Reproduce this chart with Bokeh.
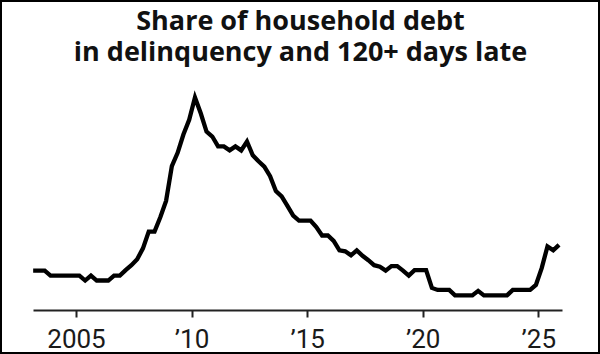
from bokeh.plotting import figure
from bokeh.models import Range1d, FixedTicker, Title
from bokeh.embed import file_html
from bokeh.resources import INLINE

# ---- data ----
start_year = 2003
n_quarters = 92  # 2003Q1 .. 2025Q4
share_120_late = [
    1.50, 1.50, 1.50, 1.40, 1.40, 1.40, 1.40, 1.40,   # 2003-2004
    1.40, 1.30, 1.40, 1.30, 1.30, 1.30, 1.40, 1.40,   # 2005-2006
    1.51, 1.61, 1.73, 1.95, 2.29, 2.29, 2.58, 2.91,   # 2007-2008
    3.61, 3.88, 4.25, 4.55, 5.00, 4.68, 4.31, 4.21,   # 2009-2010
    4.01, 4.01, 3.93, 4.01, 3.93, 4.11, 3.83, 3.71,   # 2011-2012
    3.60, 3.41, 3.11, 3.00, 2.81, 2.61, 2.51, 2.51,   # 2013-2014
    2.51, 2.38, 2.21, 2.21, 2.10, 1.91, 1.89, 1.81,   # 2015-2016
    1.91, 1.80, 1.71, 1.61, 1.58, 1.50, 1.59, 1.59,   # 2017-2018
    1.50, 1.40, 1.51, 1.51, 1.51, 1.15, 1.11, 1.11,   # 2019-2020
    1.11, 1.00, 1.00, 1.00, 1.00, 1.09, 1.00, 1.00,   # 2021-2022
    1.00, 1.00, 1.00, 1.11, 1.11, 1.11, 1.11, 1.21,   # 2023-2024
    1.55, 1.99, 1.91, 2.02,                           # 2025
]
tick_years = [2005, 2010, 2015, 2020, 2025]
tick_labels = ["2005", "\u201910", "\u201915", "\u201920", "\u201925"]
title_line1 = "Share of household debt"
title_line2 = "in delinquency and 120+ days late"

# quarter positions (middle of each quarter)
x = [start_year + (i // 4) + ((i % 4) + 0.5) / 4 for i in range(n_quarters)]

p = figure(
    width=600, height=354,
    output_backend="svg", toolbar_location=None,
    x_range=Range1d(2002.5773, 2026.8039),
    y_range=Range1d(0.694, 5.666),
    min_border_left=18, min_border_right=22,
    min_border_top=0, min_border_bottom=43,
    background_fill_color="white", border_fill_color="white",
)
p.styles = {"border": "2px solid #000", "box-sizing": "border-box"}
p.outline_line_color = None
p.grid.visible = False
p.yaxis.visible = False

p.line(x, share_120_late, line_color="#000000", line_width=4.3, line_join="miter")

ax = p.xaxis[0]
ax.ticker = FixedTicker(ticks=tick_years)
ax.major_label_overrides = {k: v for k, v in zip(tick_years, tick_labels)}
ax.bounds = (2003.125, 2026.04)
ax.axis_line_color = "#222222"
ax.axis_line_width = 2
ax.major_tick_line_color = "#222222"
ax.major_tick_line_width = 2
ax.major_tick_out = 7
ax.major_tick_in = 0
ax.minor_tick_out = 0
ax.minor_tick_in = 0
ax.major_label_standoff = 6
ax.major_label_text_font = "Roboto"
ax.major_label_text_font_size = "26px"
ax.major_label_text_color = "#1a1a1a"

t2 = Title(text=title_line2, align="center", text_font="Open Sans",
           text_font_size="27px", text_font_style="bold", text_color="#111111",
           standoff=-8.8)
t1 = Title(text=title_line1, align="center", text_font="Open Sans",
           text_font_size="27px", text_font_style="bold", text_color="#111111",
           standoff=-6.6)
p.add_layout(t2, "above")
p.add_layout(t1, "above")

open("out.html", "w").write(file_html(p, INLINE))
